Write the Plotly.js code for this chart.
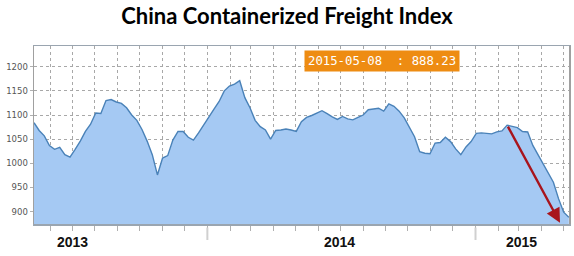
<!DOCTYPE html>
<html>
<head>
<meta charset="utf-8">
<script src="https://cdn.plot.ly/plotly-3.0.1.min.js"></script>
<style>html,body{margin:0;padding:0;background:#fff;}#chart{width:574px;height:256px;}</style>
</head>
<body>
<div id="chart"></div>
<script>
// Weekly CCFI values, 2013-05-10 .. 2015-05-08
const startDate = '2013-05-10';
const ccfiValues = [
  1084, 1068, 1057, 1037, 1029, 1033, 1018, 1013, 1029, 1046,
  1066, 1081, 1104, 1103, 1130, 1132, 1127, 1124, 1115, 1100,
  1089, 1070, 1046, 1018, 976, 1011, 1016, 1048, 1066, 1066,
  1054, 1048, 1063, 1080, 1096, 1112, 1128, 1150, 1160, 1164,
  1171, 1136, 1115, 1089, 1076, 1069, 1050, 1068, 1069, 1071,
  1069, 1066, 1086, 1095, 1099, 1104, 1109, 1103, 1096, 1091,
  1097, 1092, 1090, 1095, 1100, 1111, 1112, 1114, 1108, 1123,
  1118, 1108, 1094, 1074, 1055, 1024, 1021, 1020, 1042, 1043,
  1054, 1045, 1030, 1018, 1034, 1045, 1062, 1063, 1062, 1061,
  1065, 1067, 1079, 1077, 1074, 1066, 1065, 1037, 1018, 1001,
  983, 961, 927, 899, 888.23
];
const yearLabels = ['2013', '2014', '2015'];
const yearLabelDates = ['2013-07-02', '2014-06-30', '2015-03-04'];
const yearStartDates = ['2014-01-01', '2015-01-01'];
const lastLabel = '2015-05-08\u00a0\u00a0: 888.23';

function weekDates(start, n) {
  const out = [];
  const d0 = new Date(start + 'T00:00:00Z');
  for (let i = 0; i < n; i++) {
    const d = new Date(d0.getTime() + i * 7 * 86400000);
    out.push(d.toISOString().slice(0, 10));
  }
  return out;
}
const dates = weekDates(startDate, ccfiValues.length);

const trace = {
  x: dates, y: ccfiValues, type: 'scatter', mode: 'lines',
  line: {color: '#4a82b8', width: 1.4},
  fill: 'tozeroy', fillcolor: '#a5c9f3',
  hoverinfo: 'skip'
};

const annotations = yearLabels.map((t, i) => ({
  text: t, x: yearLabelDates[i], xref: 'x', y: -0.101, yref: 'paper',
  showarrow: false, xanchor: 'center', yanchor: 'middle',
  font: {family: 'Liberation Sans, Arial, sans-serif', size: 14, color: '#111', weight: 700}
}));
annotations.push({
  text: lastLabel, xref: 'paper', yref: 'paper', x: 0.651, y: 0.916,
  xanchor: 'center', yanchor: 'middle', showarrow: false,
  bgcolor: '#ee8c12', borderpad: 3,
  font: {family: 'DejaVu Sans Mono, monospace', size: 12.3, color: '#ffffff'}
});
annotations.push({
  x: '2015-04-26', y: 877, xref: 'x', yref: 'y',
  ax: dates[92], ay: ccfiValues[92], axref: 'x', ayref: 'y',
  showarrow: true, arrowhead: 2, arrowsize: 1.2, arrowwidth: 2.4,
  arrowcolor: '#a8141c', text: ''
});

const shapes = yearStartDates.map(d => ({
  type: 'line', xref: 'x', yref: 'paper', x0: d, x1: d, y0: -0.02, y1: -0.09,
  line: {color: '#d0d0d0', width: 2}
}));

const layout = {
  width: 574, height: 256,
  margin: {l: 34, r: 5, t: 46, b: 32},
  paper_bgcolor: '#ffffff', plot_bgcolor: '#ffffff',
  showlegend: false,
  title: {
    text: 'China Containerized Freight Index',
    x: 0.5, xanchor: 'center', y: 0.935, yanchor: 'middle',
    font: {family: 'Lato, Calibri, sans-serif', size: 22, color: '#000', weight: 700}
  },
  xaxis: {
    type: 'date', range: ['2013-05-10', '2015-05-08 06:00'],
    tick0: '2014-01-01', dtick: 'M1',
    showticklabels: false, ticks: 'outside', ticklen: 5, tickcolor: '#b0b0b0', tickwidth: 1,
    showgrid: true, gridcolor: '#a8a8a8', griddash: 'dot', gridwidth: 1,
    showline: true, linecolor: '#9aa5b0', linewidth: 1.5, mirror: true,
    zeroline: false, fixedrange: true
  },
  yaxis: {
    range: [874.5, 1242.8], tick0: 900, dtick: 50,
    ticks: 'outside', ticklen: 3, tickcolor: '#b0b0b0',
    tickfont: {family: 'DejaVu Sans, Verdana, sans-serif', size: 8.5, color: '#555'},
    showgrid: true, gridcolor: '#a8a8a8', griddash: 'dot', gridwidth: 1,
    showline: true, linecolor: '#a0a0a0', linewidth: 1.5, mirror: true,
    zeroline: false, fixedrange: true
  },
  annotations: annotations,
  shapes: shapes
};

Plotly.newPlot('chart', [trace], layout, {displayModeBar: false, staticPlot: true});
</script>
</body>
</html>
